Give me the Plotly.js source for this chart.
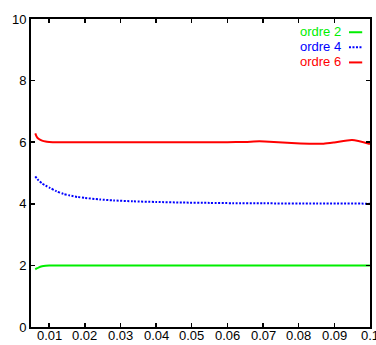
<!DOCTYPE html>
<html><head><meta charset="utf-8">
<script src="https://cdn.plot.ly/plotly-3.0.1.min.js"></script>
<style>html,body{margin:0;padding:0;background:#fff}#c{width:376px;height:345px}</style>
</head><body><div id="c"></div>
<script>
const seriesNames = ["ordre 2", "ordre 4", "ordre 6"];
const x2 = [0.0061, 0.0065, 0.007, 0.008, 0.009, 0.01, 0.012, 0.02, 0.04, 0.06, 0.08, 0.1];
const y2 = [1.87, 1.90, 1.93, 1.97, 1.99, 2.0, 2.0, 2.0, 2.0, 2.0, 2.0, 2.0];
const x4 = [0.0061, 0.007, 0.008, 0.009, 0.0102, 0.012, 0.014, 0.0158, 0.018, 0.02, 0.0242, 0.028, 0.0335, 0.04, 0.0475, 0.055, 0.0615, 0.07, 0.085, 0.1];
const y4 = [4.89, 4.76, 4.66, 4.59, 4.52, 4.41, 4.32, 4.27, 4.22, 4.19, 4.14, 4.11, 4.08, 4.06, 4.04, 4.03, 4.02, 4.015, 4.01, 4.005];
const x6 = [0.0061, 0.0065, 0.007, 0.008, 0.009, 0.01, 0.012, 0.015, 0.02, 0.03, 0.04, 0.05, 0.06, 0.065, 0.069, 0.073, 0.078, 0.083, 0.087, 0.09, 0.095, 0.1];
const y6 = [6.29, 6.18, 6.11, 6.05, 6.02, 6.01, 6.0, 6.0, 6.0, 6.0, 6.0, 6.0, 6.0, 6.01, 6.03, 6.01, 5.97, 5.95, 5.95, 5.99, 6.07, 5.94];
const xTicks = [0.01, 0.02, 0.03, 0.04, 0.05, 0.06, 0.07, 0.08, 0.09, 0.1];
const xTickText = ["0.01", "0.02", "0.03", "0.04", "0.05", "0.06", "0.07", "0.08", "0.09", "0.1"];
const yTicks = [0, 2, 4, 6, 8, 10];
const colors = ["#00ee00", "#0000ff", "#ff0000"];
const dashes = ["solid", "2px,1.5px", "solid"];

const FONT = "Liberation Sans, Arial, sans-serif";
const xs = [x2, x4, x6], ys = [y2, y4, y6];
const traces = xs.map((x, i) => ({
  x: x, y: ys[i], type: "scatter", mode: "lines", name: seriesNames[i],
  line: {color: colors[i], width: 2, dash: dashes[i], shape: "spline", smoothing: 0.6},
  showlegend: false, hoverinfo: "skip"
}));

const legY = [0.961, 0.912, 0.863];
const annotations = seriesNames.map((n, i) => ({
  xref: "paper", yref: "paper", x: 0.921, y: legY[i], xanchor: "right", yanchor: "middle",
  text: n, showarrow: false, font: {family: FONT, size: 13, color: colors[i]}
}));
xTicks.forEach((v, i) => annotations.push({
  xref: "x", yref: "paper", x: v, y: -0.029, xanchor: "center", yanchor: "middle",
  text: xTickText[i], showarrow: false, font: {family: FONT, size: 13, color: "#000"}
}));
const shapes = seriesNames.map((n, i) => ({
  type: "line", xref: "paper", yref: "paper", x0: 0.938, x1: 0.977, y0: legY[i] - 0.004, y1: legY[i] - 0.004,
  line: {color: colors[i], width: 2, dash: dashes[i]}
}));

const layout = {
  width: 376, height: 345,
  margin: {l: 31, r: 6, t: 19, b: 18},
  paper_bgcolor: "#fff", plot_bgcolor: "#fff",
  font: {family: FONT, size: 13, color: "#000"},
  xaxis: {range: [0.0049, 0.10002], tickvals: xTicks, showticklabels: false, ticks: "inside", ticklen: 4,
    tickwidth: 1.5, tickcolor: "#000", showline: true, linecolor: "#000", linewidth: 2, mirror: "ticks",
    showgrid: false, zeroline: false},
  yaxis: {range: [0, 10], tickvals: yTicks, ticks: "inside", ticklen: 4, tickwidth: 1.5, tickcolor: "#000",
    showline: true, linecolor: "#000", linewidth: 2, mirror: "ticks", showgrid: false, zeroline: false,
    tickfont: {size: 13}},
  annotations: annotations, shapes: shapes, showlegend: false
};
Plotly.newPlot("c", traces, layout, {staticPlot: true, displayModeBar: false});
</script></body></html>
